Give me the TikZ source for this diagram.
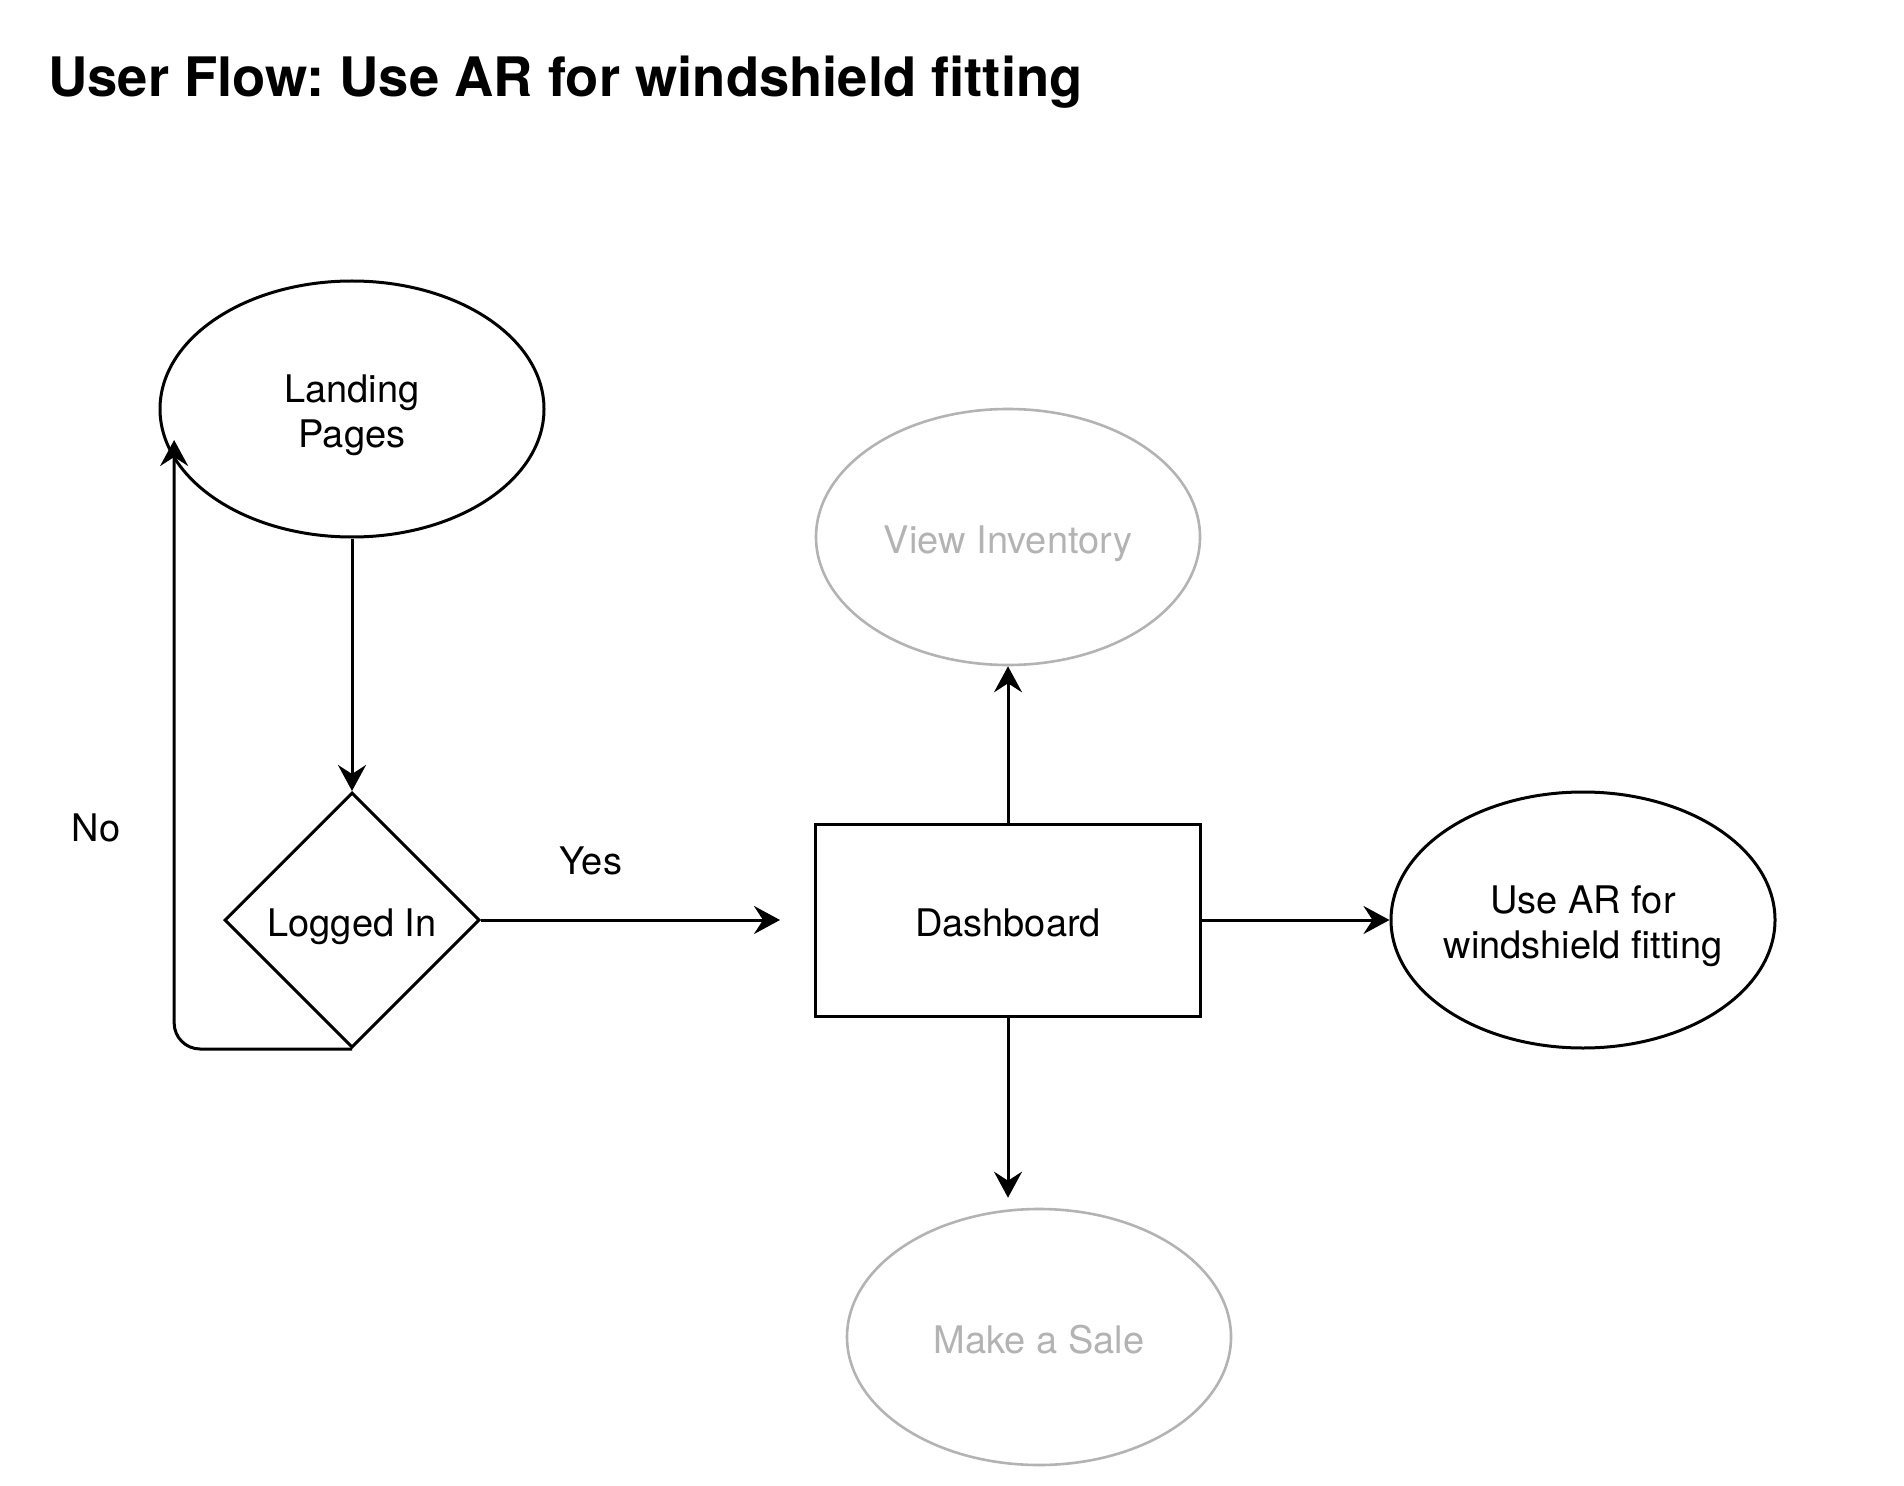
\documentclass[tikz,border=0pt]{standalone}
\usepackage{fontspec}
\setmainfont{TeX Gyre Heros}
\usetikzlibrary{positioning}
\usetikzlibrary{math}
\usetikzlibrary{shapes.geometric}
\usetikzlibrary{arrows.meta}
\definecolor{faded}{HTML}{B3B3B3}
\tikzset{flowtext/.style={font=\fontsize{19}{22.5}\selectfont, align=center, text height=17pt, text depth=1pt},
	twolines/.style={text height=39.5pt},
	page/.style={flowtext, ellipse, draw=black, line width=1.5pt, minimum width=192pt, minimum height=128pt, inner sep=0pt},
	later/.style={page, draw=faded, text=faded, line width=1.3pt},
	check/.style={flowtext, diamond, draw=black, line width=1.5pt, minimum width=127.5pt, minimum height=127.5pt, inner sep=0pt},
	screen/.style={flowtext, rectangle, draw=black, line width=1.5pt, minimum width=192.5pt, minimum height=96pt},
	flow/.style={-{Stealth[length=13pt, width=14pt, inset=4.5pt]}, line width=1.5pt}}

\begin{document}
\frenchspacing
\begin{tikzpicture}[x=0.5pt,y=-0.5pt]
	\tikzmath{\lpx=352; \lpy=409; \lix=352; \liy=920;
	\dbx=1008; \dby=920; \vix=1008; \viy=537;
	\msx=1039; \msy=1337; \arx=1583; \ary=920;
	\ttx=48; \tty=97;}
	\useasboundingbox (0,0) rectangle (1904,1486);
	\node[anchor=base west, inner sep=0pt, font=\fontsize{27.2}{32}\selectfont\bfseries] (title) at (\ttx,\tty) {User Flow: Use AR for windshield fitting};

	\node[page, twolines] (landing) at (\lpx,\lpy) {Landing\\Pages};
	\node[check] (logged) at (\lix,\liy) {Logged In};
	\node[screen] (dash) at (\dbx,\dby) {Dashboard};
	\node[later] (inventory) at (\vix,\viy) {View Inventory};
	\node[later] (sale) at (\msx,\msy) {Make a Sale};
	\node[page, twolines, inner xsep=-6pt] (usear) at (\arx,\ary) {Use AR for\\windshield fitting};

	\draw[flow] (landing) -- (logged);
	\draw[flow, shorten >=17pt] (logged.east) -- (dash.west);
	\draw[flow, rounded corners=13pt, shorten >=-10pt] (logged.south) -| (landing.196);
	\draw[flow] (dash) -- (inventory);
	\draw[flow, shorten >=5pt] (dash.south) -- (dash.south |- sale.north);
	\draw[flow] (dash) -- (usear);

	\node[flowtext] (yes) at (591,858) {Yes};
	\node[flowtext] (no) at (96,825) {No};
\end{tikzpicture}
\end{document}
